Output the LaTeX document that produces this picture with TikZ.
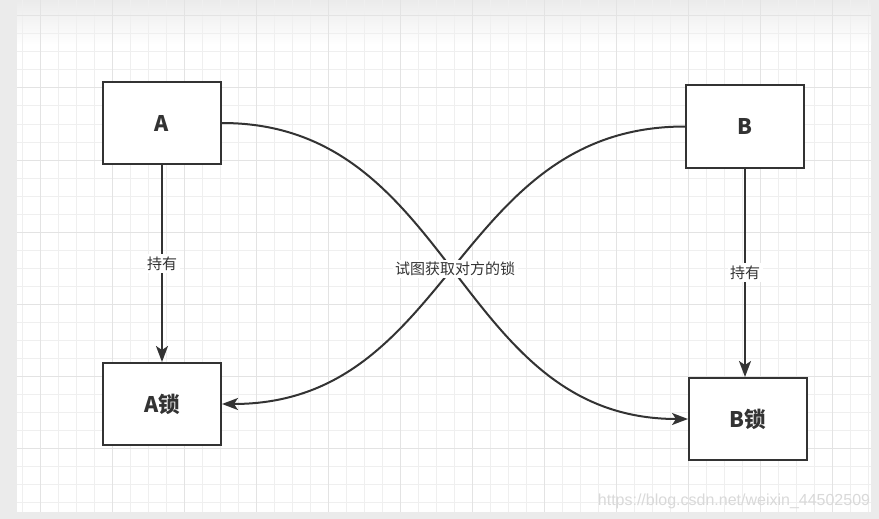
\documentclass[tikz,border=0pt]{standalone}
\usepackage{fontspec}
\setmainfont{Noto Sans CJK SC}
\newfontfamily\wmfont{Liberation Sans}
\usetikzlibrary{arrows.meta}
\definecolor{ink}{HTML}{333333}
\definecolor{gridmin}{HTML}{EFEFEF}
\definecolor{gridmaj}{HTML}{E3E3E3}
\definecolor{frame}{HTML}{EBEBEB}
\definecolor{wm}{HTML}{D9D9D9}
\begin{document}
\begin{tikzpicture}[x=1pt,y=-1pt,
  box/.style={draw=ink, line width=2pt, fill=white, minimum width=118pt, minimum height=82pt, inner sep=0pt, font=\fontsize{21.5}{25}\selectfont\bfseries, text=ink},
  conn/.style={draw=ink, line width=2pt, -{Stealth[length=16pt,width=12pt,inset=4pt]}},
  lbl/.style={fill=white, inner sep=2.5pt, font=\fontsize{15}{17}\selectfont, text=ink}]
\useasboundingbox (0,0) rectangle (879,519);
\fill[frame] (0,0) rectangle (879,519);
\fill[white] (17,0) rectangle (871,512);
\shade[top color=frame, bottom color=white] (17,0) rectangle (871,45);
\foreach \x in {22,40,...,868} \draw[gridmin, line width=1pt] (\x,0) -- (\x,512);
\foreach \y in {16,34,...,502} \draw[gridmin, line width=1pt] (17,\y) -- (871,\y);
\foreach \x in {40,112,...,832} \draw[gridmaj, line width=1pt] (\x,0) -- (\x,512);
\foreach \y in {16,88,...,448} \draw[gridmaj, line width=1pt] (17,\y) -- (871,\y);

\node[box] (A) at (162,123) {A};
\node[box] (B) at (745,126.5) {B};
\node[box] (AL) at (162,404) {A锁};
\node[box] (BL) at (748,419) {B锁};

\draw[conn] (A) -- node[lbl] (l1) {持有} (AL);
\draw[conn] (B.south) -- node[lbl] (l2) {持有} (B.south |- BL.north);
\draw[conn] (A.east) .. controls +(233,0) and +(-233,0) .. (BL.west);
\draw[conn] (B.west) .. controls +(-231,0) and +(231,0) .. (AL.east);
\node[lbl] (mid) at (455,269) {试图获取对方的锁};

\node[font=\wmfont\fontsize{16}{18}\selectfont, text=wm, inner sep=0pt] (wmk) at (734,501) {https://blog.csdn.net/weixin\_44502509};
\end{tikzpicture}
\end{document}
